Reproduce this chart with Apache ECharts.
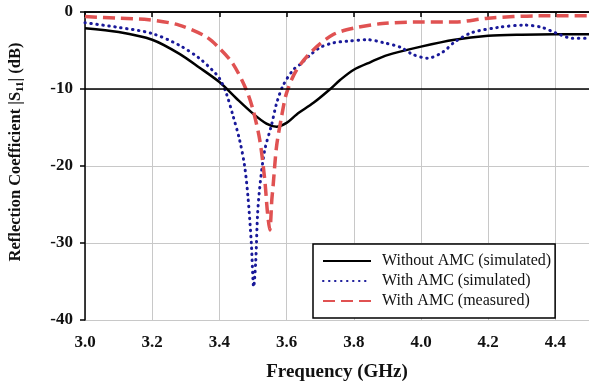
<!DOCTYPE html>
<html>
<head>
<meta charset="utf-8">
<script src="https://cdn.jsdelivr.net/npm/echarts@6/dist/echarts.min.js"></script>
<style>
html,body{margin:0;padding:0;background:#fff;}
#chart{width:589px;height:388px;}
</style>
</head>
<body>
<div id="chart"></div>
<script>
// Without AMC (simulated)
const freqNoAmc = [3.0, 3.1, 3.2, 3.28, 3.34, 3.4, 3.45, 3.5, 3.54, 3.57, 3.6, 3.63, 3.68, 3.73, 3.76, 3.8, 3.85, 3.9, 4.0, 4.1, 4.2, 4.3, 4.4, 4.5];
const s11NoAmc = [-2.1, -2.6, -3.6, -5.4, -7.2, -9.1, -11.2, -13.2, -14.5, -14.9, -14.4, -13.3, -11.8, -10.0, -8.8, -7.5, -6.5, -5.6, -4.5, -3.6, -3.1, -2.95, -2.9, -2.9];
// With AMC (simulated)
const freqAmcSim = [3.0, 3.1, 3.2, 3.28, 3.34, 3.38, 3.4, 3.42, 3.44, 3.46, 3.475, 3.485, 3.495, 3.502, 3.508, 3.514, 3.522, 3.535, 3.555, 3.57, 3.59, 3.62, 3.64, 3.67, 3.7, 3.74, 3.78, 3.84, 3.89, 3.94, 3.975, 4.02, 4.065, 4.1, 4.15, 4.23, 4.31, 4.36, 4.4, 4.45, 4.5];
const s11AmcSim = [-1.4, -2.0, -2.8, -4.3, -6.0, -7.6, -8.6, -10.5, -13.4, -16.6, -20, -24, -30, -35.7, -32.5, -26, -22, -17.9, -14.7, -11.9, -9.5, -7.5, -6.8, -5.6, -4.6, -4.0, -3.8, -3.6, -4.0, -4.6, -5.5, -6.0, -5.2, -3.9, -2.7, -2.0, -1.7, -2.0, -2.7, -3.4, -3.4];
// With AMC (measured)
const freqAmcMeas = [3.0, 3.1, 3.19, 3.28, 3.36, 3.4, 3.44, 3.48, 3.5, 3.52, 3.535, 3.543, 3.55, 3.556, 3.56, 3.57, 3.585, 3.6, 3.63, 3.68, 3.74, 3.8, 3.885, 4.0, 4.1, 4.2, 4.35, 4.5];
const s11AmcMeas = [-0.6, -0.8, -1.0, -1.7, -3.2, -4.7, -6.7, -10.1, -12.7, -16.6, -21.8, -26, -28.3, -24.4, -22.5, -17.5, -13.6, -10.5, -7.5, -4.9, -2.9, -2.1, -1.5, -1.3, -1.3, -0.8, -0.5, -0.5];

const seriesNames = ['Without AMC (simulated)', 'With AMC (simulated)', 'With AMC (measured)'];
const xTitle = 'Frequency (GHz)';

function zip(a, b) { return a.map((v, i) => [v, b[i]]); }

const FONT = '"Liberation Serif", "Times New Roman", serif';
const chart = echarts.init(document.getElementById('chart'), null, {renderer: 'canvas'});

chart.setOption({
  animation: false,
  backgroundColor: '#fff',
  grid: {left: 85, top: 12, right: 0, bottom: 68},
  xAxis: [{
    type: 'value', min: 3.0, max: 4.5, interval: 0.2,
    name: xTitle, nameLocation: 'middle', nameGap: 43,
    nameTextStyle: {fontFamily: FONT, fontWeight: 'bold', fontSize: 19, color: '#111'},
    axisLine: {show: true, lineStyle: {color: '#000', width: 1.5}},
    axisTick: {show: true, length: 5, lineStyle: {color: '#000', width: 1.5}},
    axisLabel: {formatter: v => v.toFixed(1), fontFamily: FONT, fontWeight: 'bold', fontSize: 17, color: '#111', margin: 14, showMaxLabel: false},
    splitLine: {show: true, lineStyle: {color: '#c8c8c8', width: 1}}
  }, {
    type: 'value', min: 3.0, max: 4.5, position: 'top',
    axisLine: {show: true, lineStyle: {color: '#000', width: 1.5}},
    axisTick: {show: false}, axisLabel: {show: false}, splitLine: {show: false}
  }],
  yAxis: {
    type: 'value', min: -40, max: 0, interval: 10,
    axisLine: {show: true, lineStyle: {color: '#000', width: 1.5}},
    axisTick: {show: true, length: 5, lineStyle: {color: '#000', width: 1.5}},
    axisLabel: {fontFamily: FONT, fontWeight: 'bold', fontSize: 17, color: '#111', margin: 12},
    splitLine: {show: true, lineStyle: {color: '#c8c8c8', width: 1}}
  },
  graphic: [{
    type: 'text', x: 16, y: 152, rotation: Math.PI / 2,
    style: {
      text: 'Reflection Coefficient |S{sub|11}| (dB)',
      rich: {sub: {fontFamily: FONT, fontWeight: 'bold', fontSize: 11, verticalAlign: 'bottom', padding: [8, 0, 0, 0], fill: '#111'}},
      font: 'bold 16.5px ' + FONT, fill: '#111', align: 'center', verticalAlign: 'middle'
    }
  }],
  legend: {
    left: 313, top: 244, orient: 'vertical',
    backgroundColor: '#fff', borderColor: '#000', borderWidth: 1.5, borderRadius: 0,
    padding: [9, 4, 9, 9], itemGap: 4, itemWidth: 48, itemHeight: 14,
    itemStyle: {opacity: 0},
    textStyle: {fontFamily: FONT, fontSize: 16, lineHeight: 14, color: '#111', padding: [0, 0, 0, 6]},
    data: seriesNames
  },
  series: [{
    name: seriesNames[0], type: 'line', data: zip(freqNoAmc, s11NoAmc),
    symbol: 'none', smooth: 0.3, color: '#000',
    lineStyle: {color: '#000', width: 2.5},
    markLine: {silent: true, symbol: 'none', label: {show: false},
      lineStyle: {color: '#000', width: 1.5, type: 'solid'}, data: [{yAxis: -10}]}
  }, {
    name: seriesNames[1], type: 'line', data: zip(freqAmcSim, s11AmcSim),
    symbol: 'none', smooth: 0.3, color: '#1a1a9a',
    lineStyle: {color: '#1a1a9a', width: 3, type: [0.5, 5.5], cap: 'round'}
  }, {
    name: seriesNames[2], type: 'line', data: zip(freqAmcMeas, s11AmcMeas),
    symbol: 'none', smooth: 0.3, color: '#e05252',
    lineStyle: {color: '#e05252', width: 3.5, type: [12, 6]}
  }]
});
</script>
</body>
</html>
